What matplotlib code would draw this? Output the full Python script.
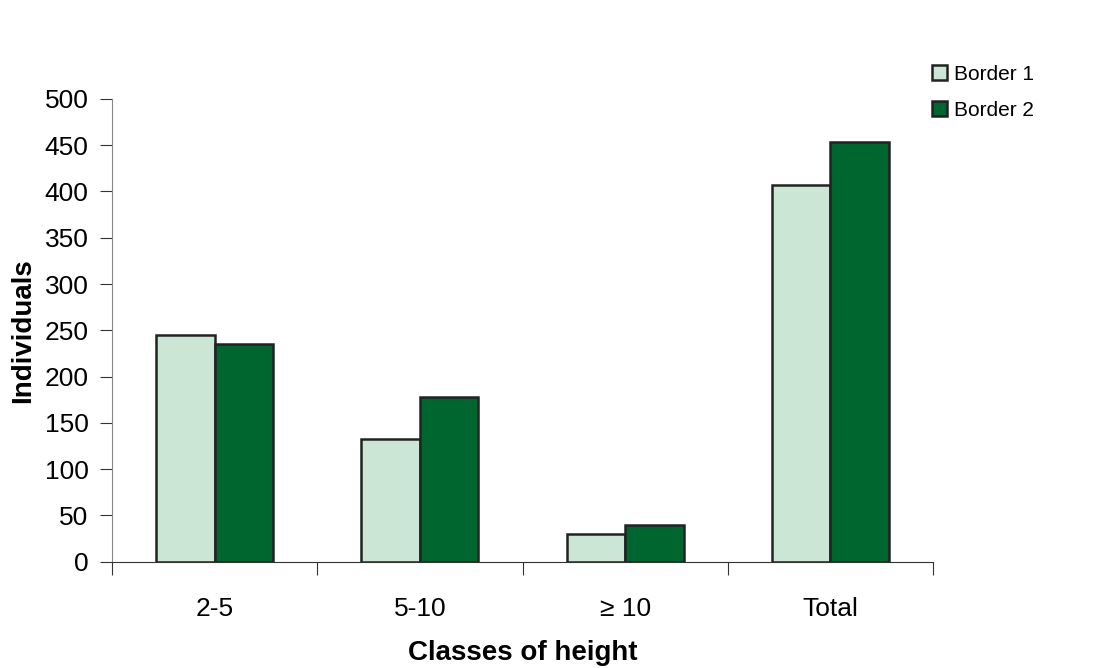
import matplotlib as mpl
import matplotlib.pyplot as plt
import numpy as np

mpl.rcParams.update({'font.family': 'Liberation Sans',
                     'font.size': 19})

classes = ["2-5", "5-10", "\u2265 10", "Total"]
border1 = [245, 133, 30, 407]
border2 = [235, 178, 40, 453]

fig = plt.figure(figsize=(11, 6.68), dpi=100)
ax = fig.add_axes([0.102, 0.159, 0.746, 0.693])

x = np.arange(len(classes))
width = 0.285
ax.bar(x - width / 2, border1, width=width, color='#cce6d6',
       edgecolor='#222222', linewidth=1.8, label='Border 1', zorder=2)
ax.bar(x + width / 2, border2, width=width, color='#006630',
       edgecolor='#222222', linewidth=1.8, label='Border 2', zorder=2)

ax.set_xlim(-0.5, len(classes) - 0.5)
ax.set_ylim(0, 500)
ax.set_yticks(np.arange(0, 501, 50))
ax.set_xticks(np.arange(-0.5, len(classes), 1))
ax.set_xticklabels([])
ax.set_xticks(x, minor=True)
ax.set_xticklabels(classes, minor=True)
ax.tick_params(axis='x', which='major', length=9, direction='out', color='#333333')
ax.tick_params(axis='x', which='minor', length=0, pad=25)
ax.tick_params(axis='y', length=9, direction='out', color='#333333', pad=8)

for side in ['top', 'right']:
    ax.spines[side].set_visible(False)
ax.spines['left'].set_color('#888888')
ax.spines['bottom'].set_color('#333333')

ax.set_ylabel("Individuals", fontweight='bold', fontsize=20, labelpad=6)
ax.set_xlabel("Classes of height", fontweight='bold', fontsize=20, labelpad=14)

fig.legend(loc='upper left', bbox_to_anchor=(0.830, 0.931), frameon=False,
           fontsize=15, handlelength=0.75, handleheight=0.75,
           handletextpad=0.3, labelspacing=0.8)

fig.savefig('out.png', dpi=100)
